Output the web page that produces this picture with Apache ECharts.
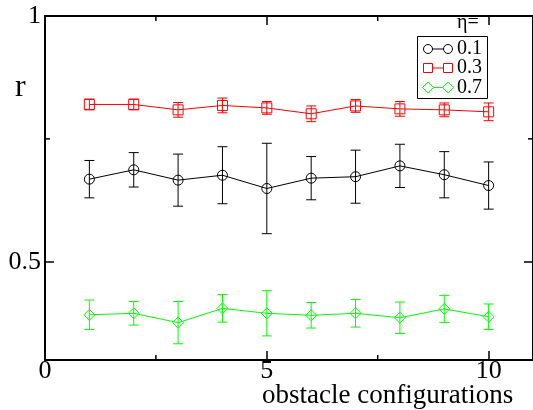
<!DOCTYPE html>
<html>
<head>
<meta charset="utf-8">
<script src="https://cdn.jsdelivr.net/npm/echarts@6/dist/echarts.min.js"></script>
<style>
html,body{margin:0;padding:0;background:#fff;}
#chart{width:533px;height:410px;}
</style>
</head>
<body>
<div id="chart"></div>
<script>
// ---- data ----
const configs = [1, 2, 3, 4, 5, 6, 7, 8, 9, 10];
const etaLabels = ['0.1', '0.3', '0.7'];
const r01 = [0.668, 0.687, 0.666, 0.676, 0.649, 0.670, 0.673, 0.695, 0.677, 0.655];
const err01 = [0.038, 0.035, 0.053, 0.058, 0.092, 0.044, 0.054, 0.044, 0.047, 0.048];
const r03 = [0.820, 0.820, 0.809, 0.818, 0.813, 0.801, 0.817, 0.811, 0.809, 0.805];
const err03 = [0.011, 0.011, 0.015, 0.015, 0.013, 0.016, 0.013, 0.015, 0.014, 0.018];
const r07 = [0.392, 0.395, 0.376, 0.405, 0.395, 0.391, 0.395, 0.386, 0.404, 0.388];
const err07 = [0.030, 0.024, 0.043, 0.028, 0.046, 0.026, 0.028, 0.032, 0.0275, 0.026];
const xMajorTicks = [0, 5, 10];
const xMinorTicks = [2.5, 7.5];
const yMajorTicks = [0.5, 1];
const yMinorTicks = [0.75];

const FONT = '"Liberation Serif", "DejaVu Serif", serif';
const colors = ['#000000', '#ff0000', '#00ff00'];
const symbols = ['circle', 'rect', 'diamond'];
const values = [r01, r03, r07];
const errs = [err01, err03, err07];
const MINOR_LEN = 5;
const MINOR_COLOR = '#000000';

const chart = echarts.init(document.getElementById('chart'));

function majorX(pos, labels) {
  return {
    type: 'value', position: pos, min: 0, max: 11,
    axisLine: { show: true, onZero: false, lineStyle: { color: '#000', width: 2 } },
    axisTick: { show: true, inside: true, length: 9, customValues: xMajorTicks, lineStyle: { color: '#000', width: 1.5 } },
    axisLabel: { show: labels, customValues: xMajorTicks, margin: -2, color: '#000', fontSize: 26, fontFamily: FONT },
    splitLine: { show: false }
  };
}
function majorY(pos, labels) {
  return {
    type: 'value', position: pos, min: 0.3, max: 1,
    axisLine: { show: true, onZero: false, lineStyle: { color: '#000', width: 2 } },
    axisTick: { show: true, inside: true, length: 9, customValues: yMajorTicks, lineStyle: { color: '#000', width: 1.5 } },
    axisLabel: { show: labels, customValues: yMajorTicks, margin: 4, color: '#000', fontSize: 26, fontFamily: FONT,
      formatter: v => String(v) },
    splitLine: { show: false }
  };
}

const series = [];
series.push({
  type: 'custom', name: 'xMinor', xAxisIndex: 0, yAxisIndex: 0, silent: true, clip: false, z: 5,
  data: xMinorTicks.map(v => [v, 0.3]),
  renderItem: function (params, api) {
    const cs = params.coordSys;
    const px = api.coord([api.value(0), api.value(1)])[0];
    const yb = cs.y + cs.height, yt = cs.y;
    const st = { stroke: MINOR_COLOR, lineWidth: 1.5 };
    return { type: 'group', children: [
      { type: 'line', shape: { x1: px, y1: yb, x2: px, y2: yb - MINOR_LEN }, style: st },
      { type: 'line', shape: { x1: px, y1: yt, x2: px, y2: yt + MINOR_LEN }, style: st }
    ] };
  }
});
series.push({
  type: 'custom', name: 'yMinor', xAxisIndex: 0, yAxisIndex: 0, silent: true, clip: false, z: 5,
  data: yMinorTicks.map(v => [0, v]),
  renderItem: function (params, api) {
    const cs = params.coordSys;
    const py = api.coord([api.value(0), api.value(1)])[1];
    const st = { stroke: MINOR_COLOR, lineWidth: 1.5 };
    return { type: 'group', children: [
      { type: 'line', shape: { x1: cs.x, y1: py, x2: cs.x + MINOR_LEN, y2: py }, style: st },
      { type: 'line', shape: { x1: cs.x + cs.width, y1: py, x2: cs.x + cs.width - MINOR_LEN, y2: py }, style: st }
    ] };
  }
});

values.forEach((vals, i) => {
  const col = colors[i];
  series.push({
    type: 'custom',
    name: etaLabels[i] + ' err',
    xAxisIndex: 0, yAxisIndex: 0,
    z: 2,
    silent: true,
    data: configs.map((x, k) => [x, vals[k], errs[i][k]]),
    renderItem: function (params, api) {
      const x = api.value(0), y = api.value(1), e = api.value(2);
      const top = api.coord([x, y + e]);
      const bot = api.coord([x, y - e]);
      const hw = 5;
      const st = { stroke: col, lineWidth: 1, fill: null };
      return {
        type: 'group',
        children: [
          { type: 'line', shape: { x1: top[0], y1: top[1], x2: bot[0], y2: bot[1] }, style: st },
          { type: 'line', shape: { x1: top[0] - hw, y1: top[1], x2: top[0] + hw, y2: top[1] }, style: st },
          { type: 'line', shape: { x1: bot[0] - hw, y1: bot[1], x2: bot[0] + hw, y2: bot[1] }, style: st }
        ]
      };
    }
  });
  series.push({
    type: 'line',
    name: etaLabels[i],
    xAxisIndex: 0, yAxisIndex: 0,
    z: 3,
    data: configs.map((x, k) => [x, vals[k]]),
    symbol: symbols[i],
    symbolSize: i === 2 ? 11 : 10,
    showAllSymbol: true,
    lineStyle: { color: col, width: 1 },
    itemStyle: { color: 'rgba(0,0,0,0)', borderColor: col, borderWidth: 1 },
    emphasis: { disabled: true },
    silent: true
  });
});

const legendGraphics = [
  { type: 'rect', shape: { x: 417.5, y: 36.5, width: 70, height: 62 }, style: { fill: '#fff', stroke: '#000', lineWidth: 1 }, z: 10 },
  { type: 'text', x: 457, y: 23, style: { text: 'η=', font: '20px ' + FONT, fill: '#000', verticalAlign: 'middle', align: 'left' }, z: 11 }
];
const rowY = [49, 68, 87.5];
etaLabels.forEach((lab, i) => {
  const y = rowY[i], col = colors[i];
  legendGraphics.push({ type: 'line', shape: { x1: 428, y1: y, x2: 448, y2: y }, style: { stroke: col, lineWidth: 1 }, z: 11 });
  [428, 448].forEach(cx => {
    let el;
    if (i === 0) el = { type: 'circle', shape: { cx: cx, cy: y, r: 4.5 } };
    else if (i === 1) el = { type: 'rect', shape: { x: cx - 4.5, y: y - 4.5, width: 9, height: 9 } };
    else el = { type: 'polygon', shape: { points: [[cx, y - 5.5], [cx + 5.5, y], [cx, y + 5.5], [cx - 5.5, y]] } };
    el.style = { fill: '#fff', stroke: col, lineWidth: 1 };
    el.z = 12;
    legendGraphics.push(el);
  });
  legendGraphics.push({ type: 'text', x: 457, y: y, style: { text: lab, font: '20px ' + FONT, fill: '#000', verticalAlign: 'middle', align: 'left' }, z: 11 });
});

const option = {
  animation: false,
  backgroundColor: '#fff',
  grid: { left: 45, top: 16, width: 490, height: 344, containLabel: false },
  xAxis: [majorX('bottom', true), majorX('top', false)],
  yAxis: [majorY('left', true), majorY('right', false)],
  series: series,
  graphic: [
    { type: 'text', x: 15, y: 88, style: { text: 'r', font: '32px ' + FONT, fill: '#000', verticalAlign: 'middle', align: 'left' } },
    { type: 'text', x: 262, y: 396, style: { text: 'obstacle configurations', font: '27px ' + FONT, fill: '#000', verticalAlign: 'middle', align: 'left' } }
  ].concat(legendGraphics)
};
chart.setOption(option);
</script>
</body>
</html>
